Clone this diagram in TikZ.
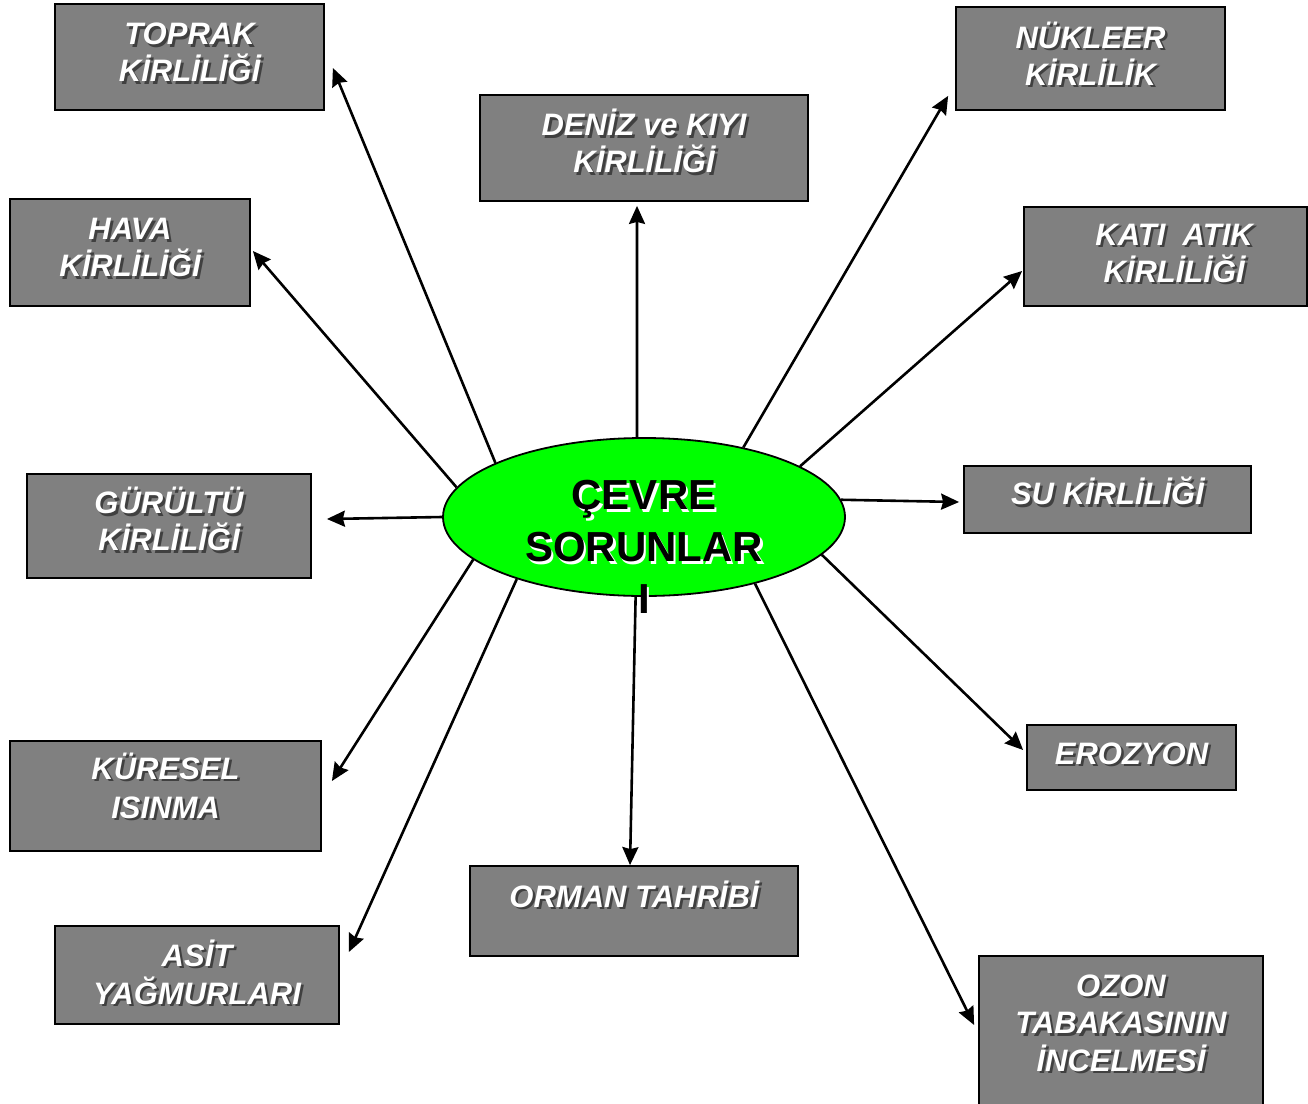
\documentclass[tikz,border=0pt]{standalone}
\usepackage{fontspec}
\setmainfont{Liberation Sans}
\usetikzlibrary{shapes.geometric,arrows.meta}
\definecolor{boxgray}{HTML}{808080}
\definecolor{coregreen}{HTML}{00FF00}
% text with a soft drop shadow
\newcommand\shw[1]{\rlap{\kern2.5pt\raisebox{-2.5pt}{\color{black!75}#1}}#1}
\newcommand\shb[1]{\rlap{\kern2.5pt\raisebox{-2.5pt}{\color{white}#1}}#1}
\tikzset{
  topic/.style={rectangle, draw=black, line width=1.8pt, fill=boxgray, inner sep=0pt,
    text=white, align=center, text depth=9.5pt, font=\fontsize{31}{37}\selectfont\bfseries\itshape},
  core/.style={ellipse, draw=black, line width=1.8pt, fill=coregreen, inner sep=0pt,
    minimum width=402pt, minimum height=158pt},
  coretext/.style={align=center, text=black, font=\fontsize{42}{52}\selectfont\bfseries},
  spoke/.style={line width=2.6pt, -{Stealth[length=18pt,width=16pt,inset=2pt]}}
}
\begin{document}
\begin{tikzpicture}[x=1pt,y=-1pt]
\useasboundingbox (0,0) rectangle (1308,1103);
\node[core] (cevre) at (644,517){};
\node[topic, minimum width=269pt, minimum height=106pt] (toprak) at (189.5,57){\shw{TOPRAK}\\\shw{KİRLİLİĞİ}};
\node[topic, minimum width=328pt, minimum height=106pt, text depth=14pt] (deniz) at (644,148){\shw{DENİZ ve KIYI}\\\shw{KİRLİLİĞİ}};
\node[topic, minimum width=269pt, minimum height=103pt] (nukleer) at (1090.5,58.5){\shw{NÜKLEER}\\\shw{KİRLİLİK}};
\node[topic, minimum width=240pt, minimum height=107pt] (hava) at (130,252.5){\shw{HAVA}\\\shw{KİRLİLİĞİ}};
\node[topic, minimum width=283pt, minimum height=99pt, text depth=7pt] (kati) at (1165.5,256.5){\shw{\ \ KATI\ \ ATIK}\\\shw{\ \ KİRLİLİĞİ}};
\node[topic, minimum width=284pt, minimum height=104pt, text depth=14pt] (gurultu) at (169,526){\shw{GÜRÜLTÜ}\\\shw{KİRLİLİĞİ}};
\node[topic, minimum width=287pt, minimum height=67pt, text depth=17pt] (su) at (1107.5,499.5){\shw{SU KİRLİLİĞİ}};
\node[topic, minimum width=311pt, minimum height=110pt, text depth=21pt, font=\fontsize{31}{39}\selectfont\bfseries\itshape] (kuresel) at (165.5,796){\shw{KÜRESEL}\\\shw{ISINMA}};
\node[topic, minimum width=209pt, minimum height=65pt, text depth=8pt] (erozyon) at (1131.5,757.5){\shw{EROZYON}};
\node[topic, minimum width=328pt, minimum height=90pt, text depth=34pt] (orman) at (634,911){\shw{ORMAN TAHRİBİ}};
\node[topic, minimum width=284pt, minimum height=98pt, text depth=6pt, font=\fontsize{31}{38}\selectfont\bfseries\itshape] (asit) at (197,975){\shw{ASİT}\\\shw{YAĞMURLARI}};
\node[topic, minimum width=284pt, minimum height=160pt, text depth=26pt, font=\fontsize{31}{37.5}\selectfont\bfseries\itshape] (ozon) at (1121,1036){\shw{OZON}\\\shw{TABAKASININ}\\\shw{İNCELMESİ}};
% arrows from the centre
\draw[spoke](cevre.160) -- ([shift={(8,11)}]toprak.east);
\draw[spoke](cevre.95) -- ([shift={(-7,4)}]deniz.south);
\draw[spoke](cevre.35) -- ([shift={(-7,-15)}]nukleer.south west);
\draw[spoke](cevre.171) -- ([shift={(2,-1.5)}]hava.east);
\draw[spoke](cevre.18) -- ([shift={(-1,14.5)}]kati.west);
\draw[spoke](cevre.180) -- ([shift={(15,-7)}]gurultu.east);
\draw[spoke](cevre.5) -- ([shift={(-4,2.5)}]su.west);
\draw[spoke](cevre.194) -- ([shift={(10,-15)}]kuresel.east);
\draw[spoke](cevre.348) -- ([shift={(-3,-7.5)}]erozyon.west);
\draw[spoke](cevre.264) -- ([shift={(-4,0)}]orman.north);
\draw[spoke](cevre.206) -- ([shift={(9,-23)}]asit.east);
\draw[spoke](cevre.329) -- ([shift={(-4,-11)}]ozon.west);
\node[coretext] (cevrelbl) at (644,548.5){\shb{ÇEVRE}\\\shb{SORUNLAR}\\\shb{I}};
\end{tikzpicture}
\end{document}
